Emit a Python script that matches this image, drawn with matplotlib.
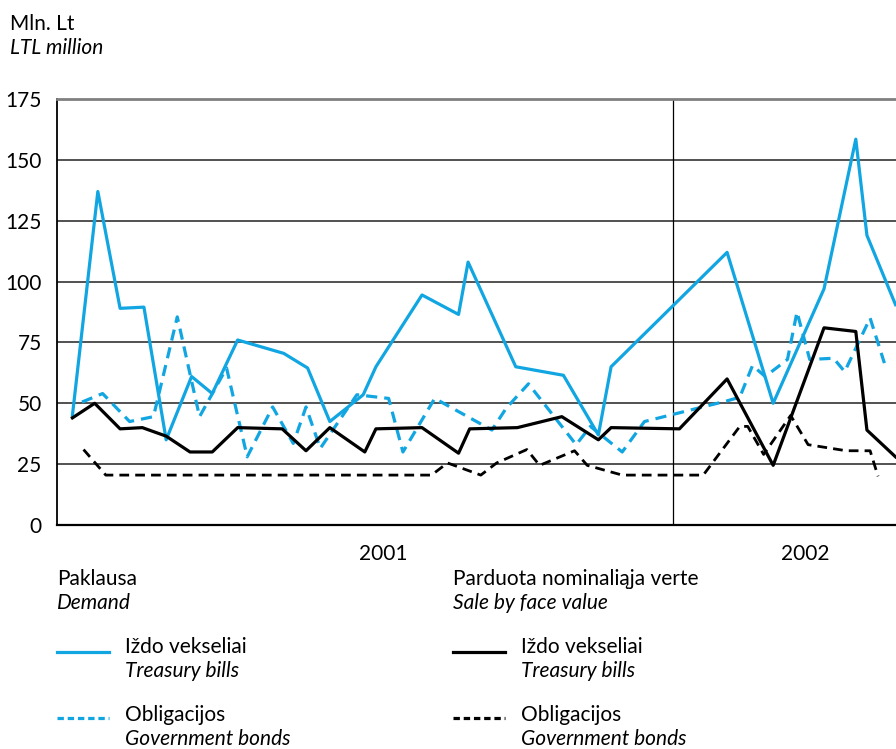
import matplotlib
matplotlib.use('Agg')
import matplotlib.pyplot as plt
from matplotlib.lines import Line2D

plt.rcParams['font.family'] = ['Lato', 'DejaVu Sans']

# days since 2001-01-01 (auction dates), values in LTL million
demand_bills_x = [-13, 3, 17, 32, 46, 62, 75, 91, 120, 135, 149, 170, 178, 207, 230, 236,
                  266, 296, 318, 326, 399, 428, 460, 480, 487, 505]
demand_bills_y = [45, 137, 89, 89.5, 35, 61, 54, 76, 70.5, 64.5, 42.5, 53.5, 65, 94.5, 86.5, 108,
                  65, 61.5, 37, 65, 112, 50, 97, 158.5, 119, 90.5]

demand_bonds_x = [-7, 6, 23, 38, 53, 67, 84, 97, 113, 126, 134, 143, 166, 186, 195, 215, 251,
                  260, 274, 304, 313, 333, 347, 399, 407, 415, 423, 437, 443, 451, 466, 473, 489, 498]
demand_bonds_y = [50.5, 54, 42.5, 44.5, 85.5, 44.5, 64.5, 28, 48.5, 33.5, 48.5, 31.5, 53.5, 52, 30, 52, 39,
                  48, 58, 33, 40.5, 30, 42.5, 51, 52.5, 65.5, 61, 68, 87.5, 68, 68.5, 63, 85, 66.5]

sold_bills_x = [-13, 1, 17, 31, 46, 61, 75, 91, 119, 134, 149, 171, 178, 207, 230, 237,
                267, 295, 318, 326, 369, 399, 428, 460, 480, 487, 505]
sold_bills_y = [44, 50, 39.5, 40, 36.5, 30, 30, 40, 39.5, 30.5, 40, 30, 39.5, 40, 29.5, 39.5,
                40, 44.5, 35, 40, 39.5, 60, 24.5, 81, 79.5, 39, 28]

sold_bonds_x = [-6, 8, 213, 223, 244, 254, 273, 281, 303, 311, 333, 384, 407, 412, 422,
                439, 450, 474, 489, 494]
sold_bonds_y = [31, 20.5, 20.5, 25.5, 20.5, 25.5, 31, 24.5, 30.5, 24.5, 20.5, 20.5, 40.5, 40.5, 29,
                45, 33, 30.5, 30.5, 20]

y_ticks = [0, 25, 50, 75, 100, 125, 150, 175]
year_labels = ['2001', '2002']
year_pos = [182.5, 448]
year_break = 365

BLUE = '#11a6e2'
W, H = 896, 749
FS = 15

fig = plt.figure(figsize=(W / 100, H / 100), dpi=100)
ax = fig.add_axes([57 / W, 1 - 525 / H, (W - 57) / W, (525 - 99) / H])

ax.set_xlim(-22.7, 505.3)
ax.set_ylim(0, 175)
ax.set_yticks(y_ticks)
ax.set_yticklabels([str(v) for v in y_ticks], fontsize=FS)
ax.set_xticks([])
ax.tick_params(axis='y', length=0, pad=11)

for v in y_ticks[1:-1]:
    ax.axhline(v, color='#333333', lw=1.2, zorder=1)
ax.axvline(year_break, color='black', lw=0.9, zorder=1)

ax.spines['right'].set_visible(False)
ax.spines['top'].set_color('#808080')
ax.spines['top'].set_linewidth(2)
ax.spines['left'].set_linewidth(1.3)
ax.spines['bottom'].set_linewidth(1.6)

dash = (0, (3.5, 2.2))
ax.plot(demand_bills_x, demand_bills_y, color=BLUE, lw=2.3, zorder=3, clip_on=False)
ax.plot(demand_bonds_x, demand_bonds_y, color=BLUE, lw=2.3, ls=dash, zorder=3)
ax.plot(sold_bills_x, sold_bills_y, color='black', lw=2.3, zorder=4, clip_on=False)
ax.plot(sold_bonds_x, sold_bonds_y, color='black', lw=2.0, ls=dash, zorder=4)

for lab, pos in zip(year_labels, year_pos):
    ax.text(pos, -8, lab, ha='center', va='top', fontsize=FS)


def ftext(x, y, s, italic=False, size=FS):
    fig.text(x / W, 1 - y / H, s, fontsize=size, va='baseline', ha='left',
             style='italic' if italic else 'normal')


def fline(x0, x1, y, color, ls):
    fig.add_artist(Line2D([x0 / W, x1 / W], [1 - y / H, 1 - y / H], color=color,
                          lw=2.3, ls=ls, transform=fig.transFigure))


ftext(10, 30, 'Mln. Lt')
ftext(10, 54, 'LTL million', italic=True)

ftext(57, 585, 'Paklausa')
ftext(57, 609, 'Demand', italic=True)
ftext(453, 585, 'Parduota nominaliąja verte')
ftext(453, 609, 'Sale by face value', italic=True)

for x0, col in [(57, BLUE), (453, 'black')]:
    fline(x0, x0 + 52, 652, col, '-')
    ftext(x0 + 68, 653, 'Iždo vekseliai')
    ftext(x0 + 68, 677, 'Treasury bills', italic=True)
    fline(x0, x0 + 52, 718, col, (0, (2, 1.2)))
    ftext(x0 + 68, 721, 'Obligacijos')
    ftext(x0 + 68, 745, 'Government bonds', italic=True)

fig.savefig('out.png', dpi=100)
